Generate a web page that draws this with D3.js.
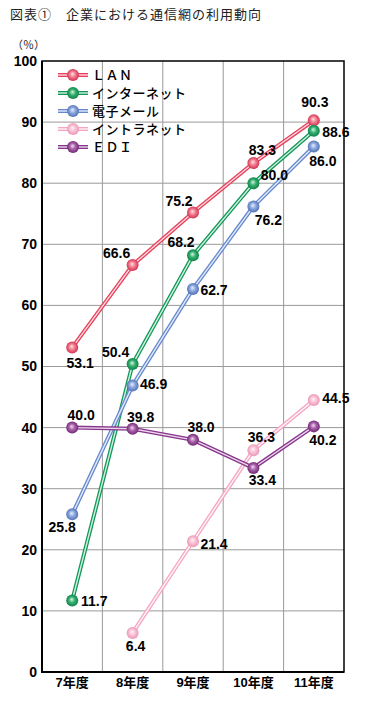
<!DOCTYPE html>
<html><head><meta charset="utf-8">
<script src="https://cdn.jsdelivr.net/npm/d3@7"></script>
<style>
body{margin:0;background:#fff;}
svg{display:block;}
</style></head>
<body><svg id="c" width="366" height="709"></svg>
<script>
const categories = ["7年度","8年度","9年度","10年度","11年度"];
const seriesNames = ["ＬＡＮ","インターネット","電子メール","イントラネット","ＥＤＩ"];
const lanValues = [53.1, 66.6, 75.2, 83.3, 90.3];
const internetValues = [11.7, 50.4, 68.2, 80.0, 88.6];
const emailValues = [25.8, 46.9, 62.7, 76.2, 86.0];
const intranetValues = [null, 6.4, 21.4, 36.3, 44.5];
const ediValues = [40.0, 39.8, 38.0, 33.4, 40.2];
const yTicks = [0,10,20,30,40,50,60,70,80,90,100];

// styles / placement (not data)
const colors = [
  {line:"#e6405a", hi:"#ffe0e6", mid:"#f27a8c", dark:"#c8284a", inner:"#ffd6de"},
  {line:"#14975a", hi:"#d8f5e4", mid:"#35b070", dark:"#0a7a42", inner:"#d0f2de"},
  {line:"#6688cc", hi:"#e6eeff", mid:"#8aa6dc", dark:"#4a6ab0", inner:"#e2eafb"},
  {line:"#f4a6c4", hi:"#fff2f7", mid:"#f8c2d6", dark:"#e890b0", inner:"#fff2f7"},
  {line:"#86358a", hi:"#f0d8f0", mid:"#a860a8", dark:"#66206a", inner:"#ecd4ec"}
];
// label offsets [dx, dy] of label centre from point
const labelOffsets = [
  [[8,15],[-16,-12],[-14,-12],[9,-13],[1,-18]],
  [[22,0],[-17,-12],[-12,-13],[21,-8],[22,1]],
  [[-10,13],[21,-1],[21,1],[15,14],[9,14]],
  [null,[3,13],[21,3],[8,-13],[22,-2]],
  [[9,-13],[8,-12],[8,-13],[9,12],[9,14]]
];

const allSeries = [lanValues, internetValues, emailValues, intranetValues, ediValues];

const svg = d3.select("#c");
const L=42, R=344, T=61, B=672;
const x = d3.scaleBand().domain(categories).range([L,R]);
const y = d3.scaleLinear().domain([0,100]).range([B,T]);

// title
svg.append("text").attr("x",10).attr("y",19)
  .attr("font-family","'Noto Sans CJK JP', sans-serif").attr("font-size",13)
  .attr("letter-spacing",1).attr("fill","#222")
  .text("図表①　企業における通信網の利用動向");
svg.append("text").attr("x",12).attr("y",49)
  .attr("font-family","'Noto Sans CJK JP', sans-serif").attr("font-size",11)
  .attr("fill","#222").text("（％）");

// gridlines
const g = svg.append("g");
g.selectAll("line.h").data(yTicks.filter(d=>d>0&&d<100)).join("line")
  .attr("x1",L).attr("x2",R).attr("y1",d=>y(d)).attr("y2",d=>y(d))
  .attr("stroke","#999").attr("stroke-width",1);
g.selectAll("line.v").data(categories.slice(1)).join("line")
  .attr("x1",d=>x(d)).attr("x2",d=>x(d)).attr("y1",T).attr("y2",B)
  .attr("stroke","#999").attr("stroke-width",1);

// frame
svg.append("rect").attr("x",L).attr("y",T).attr("width",R-L).attr("height",B-T)
  .attr("fill","none").attr("stroke","#000").attr("stroke-width",1.5);
svg.append("line").attr("x1",L).attr("x2",L).attr("y1",T).attr("y2",B+1).attr("stroke","#000").attr("stroke-width",2);
svg.append("line").attr("x1",L).attr("x2",R).attr("y1",B).attr("y2",B).attr("stroke","#000").attr("stroke-width",2);

// y tick labels
const yAxis = d3.axisLeft(y).tickValues(yTicks).tickSize(0).tickPadding(5);
const ya = svg.append("g").attr("transform",`translate(${L},0)`).call(yAxis);
ya.select(".domain").remove();
ya.selectAll("text").attr("font-family","'Liberation Sans', Arial, sans-serif")
  .attr("font-weight","bold").attr("font-size",14).attr("fill","#000");

// x labels
const xAxis = d3.axisBottom(x).tickSize(0).tickPadding(6);
const xa = svg.append("g").attr("transform",`translate(0,${B})`).call(xAxis);
xa.select(".domain").remove();
xa.selectAll("text").attr("font-family","'Liberation Sans', 'Noto Sans CJK JP', sans-serif")
  .attr("font-weight","bold").attr("font-size",13).attr("fill","#000");

// gradients
const defs = svg.append("defs");
colors.forEach((c,i)=>{
  const gr = defs.append("radialGradient").attr("id","gr"+i)
    .attr("cx","50%").attr("cy","50%").attr("r","55%").attr("fx","45%").attr("fy","40%");
  gr.append("stop").attr("offset","0%").attr("stop-color",c.hi);
  gr.append("stop").attr("offset","45%").attr("stop-color",c.mid);
  gr.append("stop").attr("offset","100%").attr("stop-color",c.dark);
});

// lines
const cx = d => x(d) + x.bandwidth()/2;
const lineGen = d3.line().defined(d=>d.v!=null).x(d=>cx(d.c)).y(d=>y(d.v));
allSeries.forEach((vals,i)=>{
  const pts = categories.map((c,j)=>({c, v:vals[j]}));
  svg.append("path").datum(pts).attr("d",lineGen).attr("fill","none")
    .attr("stroke",colors[i].line).attr("stroke-width",4);
  svg.append("path").datum(pts).attr("d",lineGen).attr("fill","none")
    .attr("stroke",colors[i].inner).attr("stroke-width",1.4);
});
// markers
allSeries.forEach((vals,i)=>{
  const pts = categories.map((c,j)=>({c, v:vals[j], j})).filter(d=>d.v!=null);
  svg.append("g").selectAll("circle").data(pts).join("circle")
    .attr("cx",d=>cx(d.c)).attr("cy",d=>y(d.v)).attr("r",6)
    .attr("fill",`url(#gr${i})`);
});
// value labels
allSeries.forEach((vals,i)=>{
  const pts = categories.map((c,j)=>({c, v:vals[j], j})).filter(d=>d.v!=null);
  svg.append("g").selectAll("text").data(pts).join("text")
    .attr("x",d=>cx(d.c)+labelOffsets[i][d.j][0])
    .attr("y",d=>y(d.v)+labelOffsets[i][d.j][1])
    .attr("dy","0.36em").attr("text-anchor","middle")
    .attr("font-family","'Liberation Sans', Arial, sans-serif")
    .attr("font-weight","bold").attr("font-size",14).attr("fill","#000")
    .text(d=>d.v.toFixed(1));
});

// legend
const lg = svg.append("g");
seriesNames.forEach((name,i)=>{
  const ly = 75 + i*18;
  lg.append("line").attr("x1",58).attr("x2",88).attr("y1",ly).attr("y2",ly)
    .attr("stroke",colors[i].line).attr("stroke-width",4);
  lg.append("line").attr("x1",58).attr("x2",88).attr("y1",ly).attr("y2",ly)
    .attr("stroke",colors[i].inner).attr("stroke-width",1.4);
  lg.append("circle").attr("cx",73).attr("cy",ly).attr("r",6).attr("fill",`url(#gr${i})`);
  lg.append("text").attr("x",92).attr("y",ly).attr("dy","0.36em")
    .attr("font-family","'Noto Sans CJK JP', sans-serif").attr("font-size",13)
    .attr("letter-spacing",0.5)
    .attr("font-weight","500").attr("fill","#000").text(name);
});
</script></body></html>
